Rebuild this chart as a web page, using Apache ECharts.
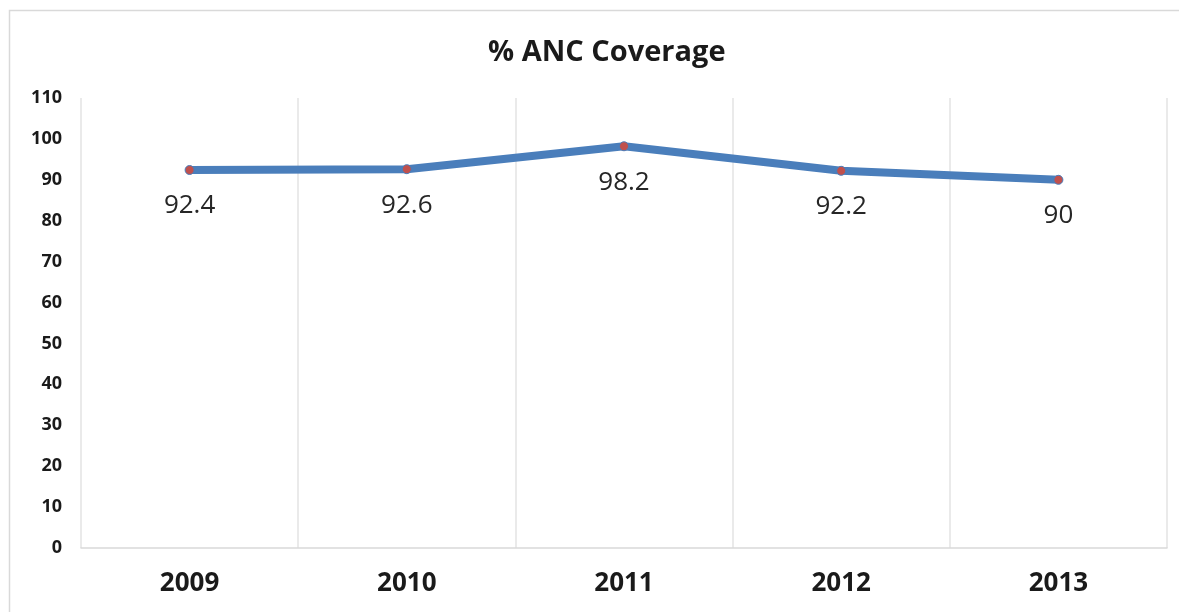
<!DOCTYPE html>
<html>
<head>
<meta charset="utf-8">
<script src="https://cdn.jsdelivr.net/npm/echarts@6/dist/echarts.min.js"></script>
<style>
html,body{margin:0;padding:0;background:#fff;}
#c{width:1179px;height:612px;}
</style>
</head>
<body>
<div id="c"></div>
<script>
const categories = ['2009', '2010', '2011', '2012', '2013'];
const coverage = [92.4, 92.6, 98.2, 92.2, 90];
const yTicks = { min: 0, max: 110, interval: 10 };

const chart = echarts.init(document.getElementById('c'));
chart.setOption({
  backgroundColor: '#ffffff',
  animation: false,
  title: {
    text: '% ANC Coverage',
    left: 483,
    top: 33,
    textStyle: { fontFamily: 'Open Sans', fontWeight: 'bold', fontSize: 29, color: '#1a1a1a' }
  },
  graphic: [{
    type: 'rect',
    shape: { x: 9.5, y: 10.5, width: 1200, height: 700 },
    style: { fill: 'none', stroke: '#d9d9d9', lineWidth: 1.5 },
    z: -1
  }],
  grid: { left: 81, right: 12, top: 98, bottom: 64 },
  xAxis: {
    type: 'category',
    data: categories,
    boundaryGap: true,
    axisLine: { show: true, lineStyle: { color: '#d9d9d9', width: 1.5 } },
    axisTick: { show: false },
    splitLine: { show: true, lineStyle: { color: '#e3e3e3', width: 1.5 } },
    axisLabel: { margin: 23, fontFamily: 'Open Sans', fontWeight: 'bold', fontSize: 26, color: '#1a1a1a' }
  },
  yAxis: {
    type: 'value',
    min: yTicks.min,
    max: yTicks.max,
    interval: yTicks.interval,
    axisLine: { show: false },
    axisTick: { show: false },
    splitLine: { show: false },
    axisLabel: { margin: 19, fontFamily: 'Open Sans', fontWeight: 'bold', fontSize: 18, color: '#1a1a1a' }
  },
  series: [{
    type: 'line',
    data: coverage,
    symbol: 'circle',
    symbolSize: 9,
    lineStyle: { color: '#4a7ebb', width: 8, cap: 'round', join: 'round' },
    itemStyle: { color: '#c0504d', borderColor: '#4a7ebb', borderWidth: 1 },
    label: {
      show: true,
      position: 'bottom',
      distance: 18,
      fontFamily: 'Open Sans',
      fontSize: 26,
      color: '#262626'
    }
  }]
});
</script>
</body>
</html>
